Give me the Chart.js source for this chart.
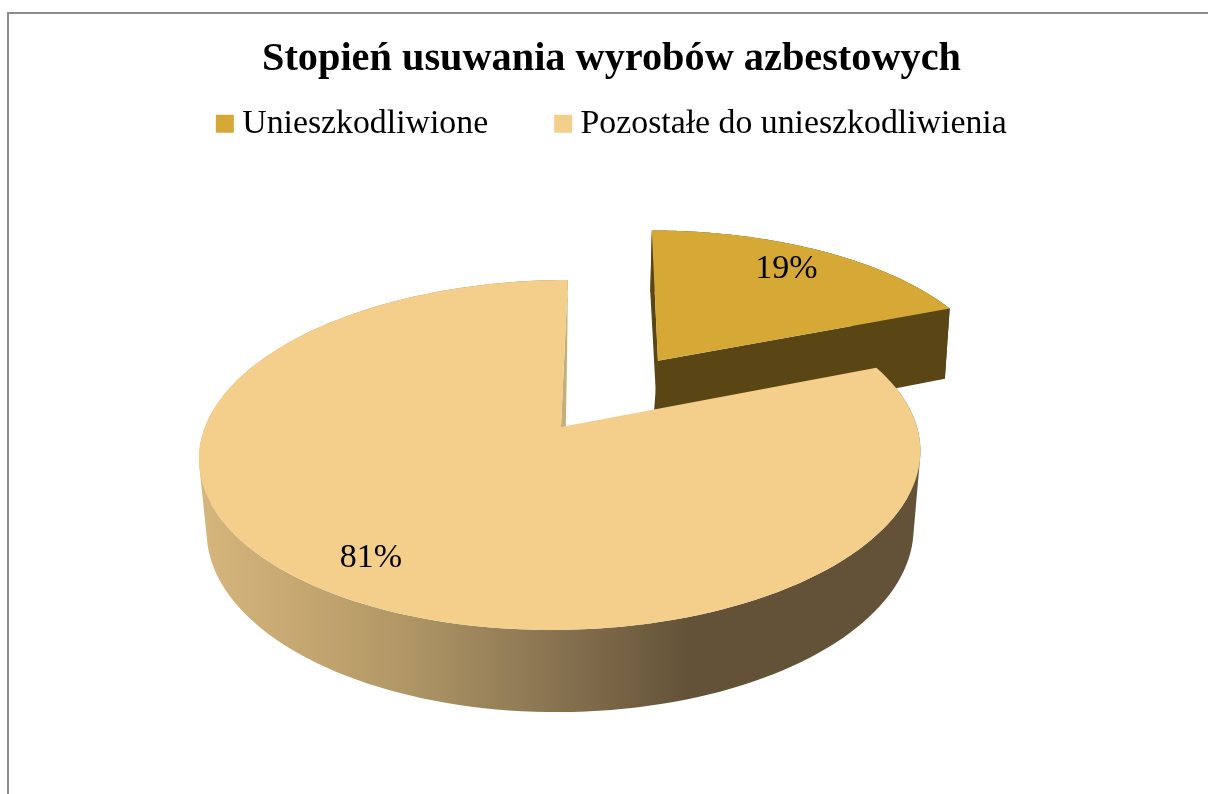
<!DOCTYPE html>
<html>
<head>
<meta charset="utf-8">
<title>Stopień usuwania wyrobów azbestowych</title>
<script src="https://cdn.jsdelivr.net/npm/chart.js@4/dist/chart.umd.min.js"></script>
<style>
    html, body { margin: 0; padding: 0; background: #fff; overflow: hidden; }
    #frame { position: absolute; left: 7px; top: 12px; width: 1201px; height: 782px;
             border-left: 2px solid #8c8c8c; border-top: 2px solid #8c8c8c; box-sizing: border-box; }
    #wrap { position: absolute; left: 0; top: 0; width: 1208px; height: 794px; }
</style>
</head>
<body>
<div id="frame"></div>
<div id="wrap"><canvas id="chart" width="1208" height="794"></canvas></div>
<script>
const titleText = 'Stopień usuwania wyrobów azbestowych';
const categories = ['Unieszkodliwione', 'Pozostałe do unieszkodliwienia'];
const values = [19, 81];
const topColors = ['#d6a835', '#f4cf8b'];
const sideColors = ['#5a4515', '#c9ad78'];
const serif = '"Liberation Serif", serif';

// camera for the top face and for the bottom face of the pie
const topFace = { cx: 561, cy: 427, ax: 356, ay: 170.5, skew: -8, k: 0.16 };
const lowFace = { cx: 560.5, cy: 506, ax: 350.5, ay: 179.3, skew: -3, k: 0.13 };
const explode = 0.5;
const labelShift = [-7, 0];

function project(face, u, v, shift) {
    const w = 1 - face.k * v;
    return {
        x: face.cx + (shift || 0) + (face.ax * u + face.skew * v) / w,
        y: face.cy + face.ay * v / w
    };
}

// angle from the library (radians, 0 = 3 o'clock) to the unit disc
function disc(angle, r, o) {
    return { u: o.u + r * Math.cos(angle), v: o.v + r * Math.sin(angle) };
}

function sliceOrigin(arc) {
    if (!arc.options.offset) return { u: 0, v: 0 };
    const mid = (arc.startAngle + arc.endAngle) / 2;
    return { u: explode * Math.cos(mid), v: explode * Math.sin(mid) };
}

function arcPoints(face, arc, o, shiftFrom, shiftTo) {
    const pts = [];
    const steps = 160;
    for (let i = 0; i <= steps; i++) {
        const t = i / steps;
        const d = disc(arc.startAngle + (arc.endAngle - arc.startAngle) * t, 1, o);
        pts.push(project(face, d.u, d.v, (shiftFrom || 0) + ((shiftTo || 0) - (shiftFrom || 0)) * t));
    }
    return pts;
}

function fillPoly(ctx, pts, fill) {
    ctx.beginPath();
    pts.forEach((p, i) => i ? ctx.lineTo(p.x, p.y) : ctx.moveTo(p.x, p.y));
    ctx.closePath();
    ctx.fillStyle = fill;
    ctx.fill();
}

// rim as a strip of quads in one path, all wound the same way, so no seams
function fillRim(ctx, top, low, fill) {
    ctx.beginPath();
    for (let i = 0; i < top.length - 1; i++) {
        let quad = [top[i], top[i + 1], low[i + 1], low[i]];
        let area = 0;
        quad.forEach((p, j) => {
            const q = quad[(j + 1) % 4];
            area += p.x * q.y - q.x * p.y;
        });
        if (area < 0) quad = quad.reverse();
        quad.forEach((p, j) => j ? ctx.lineTo(p.x, p.y) : ctx.moveTo(p.x, p.y));
        ctx.closePath();
    }
    ctx.fillStyle = fill;
    ctx.fill('nonzero');
}

function edgeWall(ctx, angle, o, fill, shift) {
    const d = disc(angle, 1, o);
    fillPoly(ctx, [
        project(topFace, o.u, o.v),
        project(topFace, d.u, d.v),
        project(lowFace, d.u, d.v, shift),
        project(lowFace, o.u, o.v, shift)
    ], fill);
}

const pie3d = {
    id: 'pie3d',
    afterLayout(chart) {
        // the key sticks out left of its box, so centre the legend by eye
        chart.legend.left += 4;
        chart.legend.right += 4;
    },
    beforeDatasetsDraw(chart) {
        const ctx = chart.ctx;
        const arcs = chart.getDatasetMeta(0).data;
        const small = arcs[0], big = arcs[1];
        ctx.save();

        // exploded slice sits behind the big one
        let o = sliceOrigin(small);
        let top = arcPoints(topFace, small, o);
        let low = arcPoints(lowFace, small, o, 3, -3);
        fillRim(ctx, top, low, sideColors[0]);
        edgeWall(ctx, small.startAngle, o, sideColors[0], 3);
        edgeWall(ctx, small.endAngle, o, sideColors[0], -3);
        fillPoly(ctx, [project(topFace, o.u, o.v)].concat(top), small.options.backgroundColor);

        // big slice
        o = sliceOrigin(big);
        top = arcPoints(topFace, big, o);
        low = arcPoints(lowFace, big, o);
        edgeWall(ctx, big.endAngle, o, sideColors[1], 4);
        const rim = ctx.createLinearGradient(199, 0, 920, 0);
        rim.addColorStop(0, '#d6b67c');
        rim.addColorStop(0.168, '#c2a46f');
        rim.addColorStop(0.279, '#b19866');
        rim.addColorStop(0.5, '#877250');
        rim.addColorStop(0.68, '#635238');
        rim.addColorStop(1, '#635238');
        fillRim(ctx, top, low, rim);
        fillPoly(ctx, [project(topFace, o.u, o.v)].concat(top), big.options.backgroundColor);

        // percent labels
        const total = values.reduce((a, b) => a + b, 0);
        ctx.fillStyle = '#000';
        ctx.font = '34px ' + serif;
        ctx.textAlign = 'center';
        ctx.textBaseline = 'middle';
        arcs.forEach((arc, i) => {
            const org = sliceOrigin(arc);
            const d = disc((arc.startAngle + arc.endAngle) / 2, 0.82, org);
            const p = project(topFace, d.u, d.v);
            ctx.fillText(Math.round(values[i] / total * 100) + '%', p.x + labelShift[i], p.y + 1);
        });
        ctx.restore();
        return false;
    }
};

new Chart(document.getElementById('chart'), {
    type: 'pie',
    data: {
        labels: categories,
        datasets: [{
            data: values,
            backgroundColor: topColors,
            borderWidth: 0,
            offset: [60, 0]
        }]
    },
    options: {
        responsive: false,
        animation: false,
        layout: { padding: { left: 15, right: 0, top: 35, bottom: 20 } },
        plugins: {
            tooltip: { enabled: false },
            title: {
                display: true,
                text: titleText,
                color: '#000',
                font: { family: serif, size: 40.3, weight: 'bold' },
                padding: { top: 0, bottom: -51 }
            },
            legend: {
                position: 'top',
                onClick: null,
                labels: {
                    color: '#000',
                    font: { family: serif, size: 33.8 },
                    // thin box with a wide stroke: gives the 18px key close to its text
                    boxWidth: 1,
                    boxHeight: 1,
                    padding: 74.5,
                    generateLabels: chart => categories.map((c, i) => ({
                        text: c,
                        fillStyle: topColors[i],
                        strokeStyle: topColors[i],
                        lineWidth: 17,
                        fontColor: '#000',
                        index: i
                    }))
                }
            }
        }
    },
    plugins: [pie3d]
});
</script>
</body>
</html>
